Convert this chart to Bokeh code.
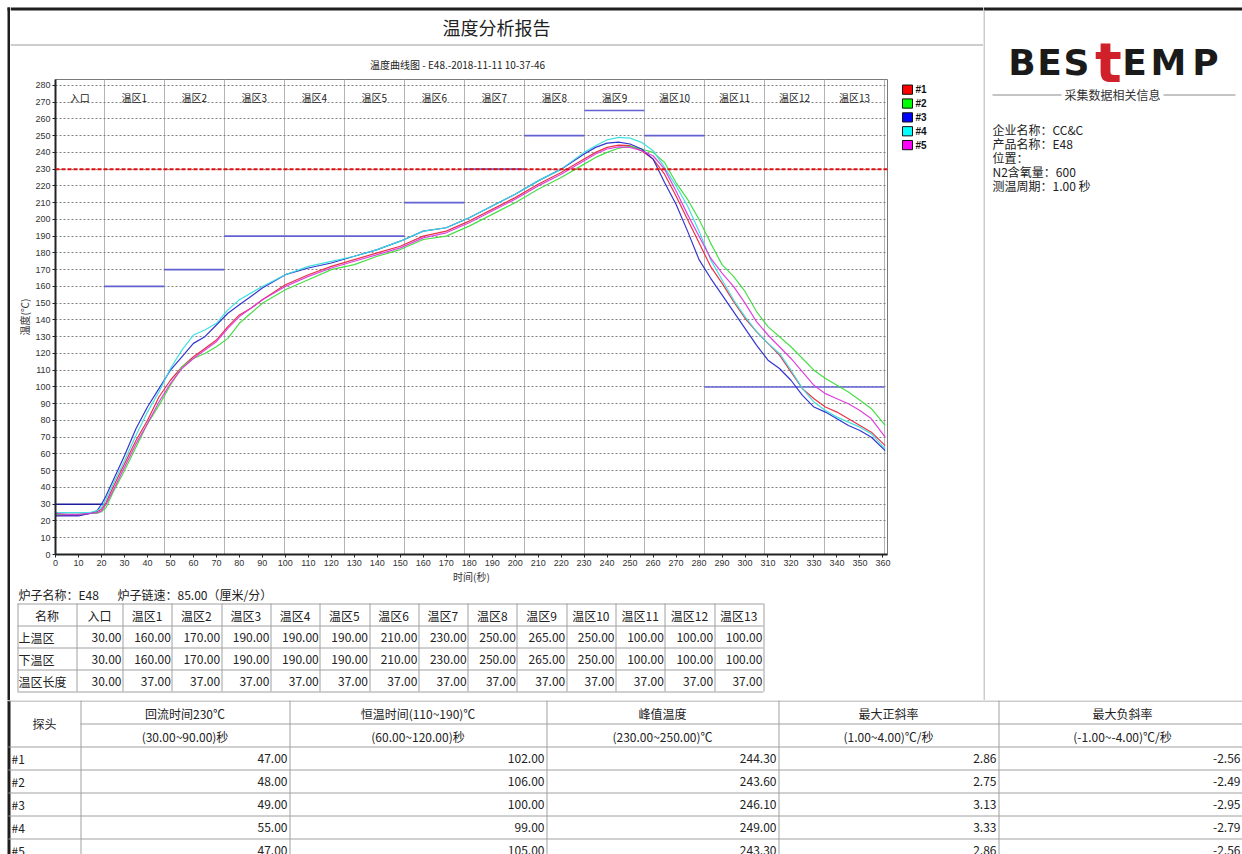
import numpy as np
from bokeh.plotting import figure
from bokeh.layouts import row, column
from bokeh.models import Range1d, FixedTicker, SingleIntervalTicker, Span
from bokeh.core.properties import value
from bokeh.embed import file_html
from bokeh.resources import INLINE

CJK = "Noto Sans CJK SC"
SANS = "Liberation Sans"

# ---------------- data ----------------
report_title = "温度分析报告"
chart_title = "温度曲线图 - E48.-2018-11-11 10-37-46"
x_label = "时间(秒)"
y_label = "温度(℃)"

oven_name = "E48"
chain_speed = 85.00  # cm / min

zone_names = ["入口", "温区1", "温区2", "温区3", "温区4", "温区5", "温区6", "温区7",
              "温区8", "温区9", "温区10", "温区11", "温区12", "温区13"]
upper_temps = [30, 160, 170, 190, 190, 190, 210, 230, 250, 265, 250, 100, 100, 100]
lower_temps = [30, 160, 170, 190, 190, 190, 210, 230, 250, 265, 250, 100, 100, 100]
zone_lengths = [30, 37, 37, 37, 37, 37, 37, 37, 37, 37, 37, 37, 37, 37]
row_names = ["名称", "上温区", "下温区", "温区长度"]

reflow_threshold = 230

time_s = [0, 5, 10, 15, 18, 20, 22, 25, 30, 35, 40, 45, 50, 55, 60, 65, 70, 75, 80, 85, 90,
          100, 110, 120, 130, 140, 150, 160, 170, 180, 190, 200, 210, 220, 230, 235, 240, 245,
          250, 255, 260, 265, 270, 275, 280, 285, 290, 295, 300, 305, 310, 315, 320, 325, 330,
          335, 340, 345, 350, 355, 361]

probe_1 = [23.5, 23.5, 23.5, 24.5, 25.5, 27, 31, 40, 54, 68, 80, 94, 104, 112, 118, 123, 128, 136, 143, 147, 152,
           161, 167, 172, 176, 180, 184, 190, 193, 199, 206, 213, 221, 228, 236, 240, 243, 244.3,
           244, 241, 236, 227, 214, 200, 186, 172, 162, 151, 141, 133, 126, 119, 109, 99, 93,
           88, 85, 81, 77, 73, 65]
probe_2 = [24, 24, 24, 24.5, 24.5, 25.5, 28, 37, 50, 64, 78, 89, 101, 112, 117, 120, 124, 129, 138, 144, 150,
           158, 164, 170, 173, 178, 182, 188, 190, 196, 203, 210, 218, 225, 233, 237, 240, 242.5,
           243.6, 242, 240, 234, 222, 212, 200, 186, 173, 166, 157, 145, 136, 130, 124, 117, 110,
           105, 101, 97, 92, 87, 77]
probe_3 = [23, 23, 23, 24.5, 26, 30, 35, 44, 59, 75, 88, 99, 110, 118, 126, 130, 137, 144, 149, 154, 159,
           167, 171, 174, 178, 182, 187, 193, 195, 201, 208, 215, 223, 230, 239, 243, 245.5, 246.1,
           245, 242, 236, 222, 209, 193, 176, 165, 155, 145, 135, 125, 116, 111, 104, 95, 88,
           85, 81, 77, 74, 70, 62]
probe_4 = [25, 25, 25, 25, 26, 28, 33, 42, 56, 71, 85, 97, 111, 122, 131, 134, 138, 146, 152, 156, 160,
           167, 172, 175, 178, 182, 187, 193, 195, 201, 208, 215, 223, 230, 240, 244, 247.5, 249,
           248.5, 246, 241, 231, 220, 208, 193, 176, 164, 152, 142, 133, 126, 120, 110, 99, 91,
           86, 82, 79, 76, 72, 63]
probe_5 = [24.5, 24, 24, 24.5, 25, 26, 30, 38, 52, 66, 78, 91, 102, 111, 117, 122, 127, 135, 142, 147, 152,
           160, 166, 171, 175, 179, 183, 189, 192, 198, 205, 212, 220, 227, 235, 239, 242, 243.3,
           243, 241, 238, 230, 217, 203, 190, 177, 168, 160, 150, 139, 131, 124, 117, 109, 101,
           96, 93, 90, 86, 81, 70]

probe_names = ["#1", "#2", "#3", "#4", "#5"]
probe_series = [probe_1, probe_2, probe_3, probe_4, probe_5]
line_colors = ["#e8283c", "#3ddc3d", "#2a2ad0", "#3adede", "#dc3adc"]
legend_colors = ["#ff0000", "#00ff00", "#0000ff", "#00ffff", "#ff00ff"]

result_headers = ["回流时间230℃", "恒温时间(110~190)℃", "峰值温度", "最大正斜率", "最大负斜率"]
result_limits = ["(30.00~90.00)秒", "(60.00~120.00)秒", "(230.00~250.00)℃",
                 "(1.00~4.00)℃/秒", "(-1.00~-4.00)℃/秒"]
reflow_time = [47.00, 48.00, 49.00, 55.00, 47.00]
soak_time = [102.00, 106.00, 100.00, 99.00, 105.00]
peak_temp = [244.30, 243.60, 246.10, 249.00, 243.30]
max_pos_slope = [2.86, 2.75, 3.13, 3.33, 2.86]
max_neg_slope = [-2.56, -2.49, -2.95, -2.79, -2.56]

info_title = "采集数据相关信息"
info_labels = ["企业名称：", "产品名称：", "位置：", "N2含氧量：", "测温周期："]
info_values = ["CC&C", "E48", "", "600", "1.00 秒"]

logo_letters = ["B", "E", "S", "t", "E", "M", "P"]

# ---------------- helpers ----------------
TXT = "#222222"
GRID = "#a0a0a0"
DARK = "#1e1e1e"


def canvas(w, h, bg="white"):
    p = figure(width=w, height=h, x_range=Range1d(0, w), y_range=Range1d(h, 0),
               min_border=0, toolbar_location=None, output_backend="svg",
               x_axis_location=None, y_axis_location=None, outline_line_color=None,
               background_fill_color=bg, border_fill_color=bg)
    p.xgrid.visible = False
    p.ygrid.visible = False
    return p


def txt(p, x, y, t, size="12px", align="left", font=CJK, color=TXT, style="normal", baseline="middle"):
    p.text(x=[x], y=[y], text=[t], text_font=value(font), text_font_size=size,
           text_align=align, text_baseline=baseline, text_color=color, text_font_style=style)


def hline(p, x0, x1, y, color=GRID, width=1):
    p.segment(x0=[x0], y0=[y], x1=[x1], y1=[y], line_color=color, line_width=width)


def vline(p, x, y0, y1, color=GRID, width=1):
    p.segment(x0=[x], y0=[y0], x1=[x], y1=[y1], line_color=color, line_width=width)


# ---------------- left edge (page x 0..10, y 0..700) ----------------
edge = canvas(10, 700)
vline(edge, 8.5, 7, 700, color=DARK, width=3)
hline(edge, 7, 10, 8.5, color=DARK, width=3)

# ---------------- title block (page x 10..983, y 0..72) ----------------
title_fig = canvas(973, 72)
hline(title_fig, 0, 973, 8.5, color=DARK, width=3)
txt(title_fig, 486, 26, report_title, size="18px", align="center")
hline(title_fig, 0, 973, 44.5, color="#9a9a9a")
txt(title_fig, 447, 64, chart_title, size="10px", align="center")

# ---------------- chart (page x 10..895, y 72..586) ----------------
speed_cm_s = chain_speed / 60.0
zone_ends = np.cumsum(zone_lengths) / speed_cm_s
zone_starts = np.concatenate([[0.0], zone_ends[:-1]])
zone_mid = (zone_starts + zone_ends) / 2

chart = figure(width=885, height=514, x_range=Range1d(0, 362), y_range=Range1d(0, 283.5),
               min_border_left=45, min_border_right=8, min_border_top=7, min_border_bottom=28,
               toolbar_location=None, output_backend="svg", outline_line_color="#7a7a7a",
               background_fill_color="white", border_fill_color="white")
chart.xaxis.ticker = SingleIntervalTicker(interval=10)
chart.yaxis.ticker = SingleIntervalTicker(interval=10)
for ax in (chart.xaxis[0], chart.yaxis[0]):
    ax.axis_line_color = "#222222"
    ax.axis_line_width = 2
    ax.major_tick_line_color = "#222222"
    ax.major_tick_out = 3
    ax.major_tick_in = 0
    ax.minor_tick_line_color = None
    ax.major_label_text_font = SANS
    ax.major_label_text_font_size = "9px"
    ax.major_label_text_color = "#333333"
    ax.major_label_standoff = 1
    ax.axis_label_text_font = CJK
    ax.axis_label_text_font_size = "10px"
    ax.axis_label_text_font_style = "normal"
    ax.axis_label_text_color = "#333333"
    ax.axis_label_standoff = 0
chart.xaxis.axis_label = x_label
chart.yaxis.axis_label = y_label

chart.ygrid.grid_line_color = "#808080"
chart.ygrid.grid_line_dash = "2 2"
chart.ygrid.grid_line_width = 1
chart.xgrid.ticker = FixedTicker(ticks=list(zone_ends))
chart.xgrid.grid_line_color = "#b4b4b4"
chart.xgrid.grid_line_width = 1

seg_colors = ["#1c1c9c"] + ["#6262d2"] * (len(zone_names) - 1)
chart.segment(x0=list(zone_starts), y0=upper_temps, x1=list(zone_ends), y1=upper_temps,
              line_color=seg_colors, line_width=1.6)

chart.text(x=list(zone_mid), y=[273] * len(zone_names), text=zone_names,
           text_font=value(CJK), text_font_size="10px", text_align="center",
           text_baseline="middle", text_color="#222222")

chart.add_layout(Span(location=reflow_threshold, dimension="width", line_color="#e01010",
                      line_dash="4 2", line_width=2))

for name, ser, col in zip(probe_names, probe_series, line_colors):
    chart.line(time_s, ser, line_color=col, line_width=1.2, line_alpha=0.95)

# ---------------- legend block (page x 895..983, y 72..586) ----------------
legend_fig = canvas(88, 514)
leg_y = [11 + 15 * i for i in range(len(probe_names))]
legend_fig.rect(x=[12] * len(probe_names), y=leg_y, width=10, height=10,
                fill_color=legend_colors, line_color="#111111", line_width=1)
legend_fig.text(x=[20] * len(probe_names), y=leg_y, text=probe_names, text_font=value(SANS),
                text_font_size="10px", text_font_style="bold", text_baseline="middle",
                text_align="left", text_color="#111111")

# ---------------- zone table block (page x 10..983, y 586..700) ----------------
table_fig = canvas(973, 114)
txt(table_fig, 8, 8, "炉子名称：" + oven_name)
txt(table_fig, 107, 8, "炉子链速：%.2f（厘米/分）" % chain_speed)

col_w = [59, 46] + [49.3] * len(zone_names[1:])
col_x = np.concatenate([[7.0], 7.0 + np.cumsum(col_w)])
row_y = [17, 39, 61, 83, 105]
for xv in col_x:
    vline(table_fig, round(xv) + 0.5, row_y[0], row_y[-1])
for yv in row_y:
    hline(table_fig, col_x[0], col_x[-1], yv + 0.5)
table_rows = [[row_names[0]] + zone_names,
              [row_names[1]] + ["%.2f" % v for v in upper_temps],
              [row_names[2]] + ["%.2f" % v for v in lower_temps],
              [row_names[3]] + ["%.2f" % v for v in zone_lengths]]
for r, cells in enumerate(table_rows):
    yc = (row_y[r] + row_y[r + 1]) / 2 + 1
    for c, cell in enumerate(cells):
        if r == 0:
            txt(table_fig, (col_x[c] + col_x[c + 1]) / 2, yc, cell, align="center")
        elif c == 0:
            txt(table_fig, col_x[0] + 1, yc, cell, align="left")
        else:
            txt(table_fig, col_x[c + 1] - 1, yc, cell, align="right")

left_col = column(title_fig, row(chart, legend_fig), table_fig)

# ---------------- right info panel (page x 983..1242, y 0..700) ----------------
right_fig = canvas(259, 700)
hline(right_fig, 0, 259, 8.5, color=DARK, width=3)
vline(right_fig, 0.5, 9, 700, color="#9a9a9a")
logo_x = [38.5, 66, 93, 125, 151, 185, 222]
for ch, lx in zip(logo_letters, logo_x):
    if ch == "t":
        txt(right_fig, lx, 62, ch, size="56px", align="center", font="DejaVu Sans",
            color="#d0202a", style="bold", baseline="alphabetic")
    else:
        txt(right_fig, lx, 62, ch, size="36px", align="center", font="DejaVu Sans",
            color="#1a1a1a", style="bold", baseline="alphabetic")
hline(right_fig, 9, 78, 94.5, color="#8a8a8a")
hline(right_fig, 180, 252, 94.5, color="#8a8a8a")
txt(right_fig, 129, 94, info_title, size="12px", align="center", color="#333333")
for i, (lab, val) in enumerate(zip(info_labels, info_values)):
    txt(right_fig, 9, 129 + 14 * i, lab + val, size="12px", color="#222222")

top_row = row(edge, left_col, right_fig)

# ---------------- bottom results table (page x 0..1242, y 700..854) ----------------
bottom = canvas(1242, 154)
vline(bottom, 8.5, 0, 154, color=DARK, width=3)
bcol = [8, 80, 289, 546, 778, 998, 1246]
brow = [0, 23, 46, 69, 92, 115, 138, 161]
hline(bottom, 8, 1242, 0.5, color="#9a9a9a")
hline(bottom, bcol[1], 1242, brow[1] + 0.5)
for yv in brow[2:]:
    hline(bottom, 8, 1242, yv + 0.5)
for xv in bcol[1:-1]:
    vline(bottom, xv + 0.5, 0, 154)
txt(bottom, (bcol[0] + bcol[1]) / 2, brow[1], "探头", align="center")
for c in range(len(result_headers)):
    xc = (bcol[c + 1] + bcol[c + 2]) / 2
    txt(bottom, xc, (brow[0] + brow[1]) / 2 + 1, result_headers[c], align="center")
    txt(bottom, xc, (brow[1] + brow[2]) / 2 + 1, result_limits[c], align="center")
result_cols = [reflow_time, soak_time, peak_temp, max_pos_slope, max_neg_slope]
for r, name in enumerate(probe_names):
    yc = (brow[r + 2] + brow[r + 3]) / 2 + 0.5
    txt(bottom, 11, yc, name, align="left")
    for c, colvals in enumerate(result_cols):
        right_edge = min(bcol[c + 2] - 2, 1240)
        txt(bottom, right_edge, yc, "%.2f" % colvals[r], align="right")

layout = column(top_row, bottom)

with open("out.html", "w") as f:
    f.write(file_html(layout, INLINE, title=report_title))
